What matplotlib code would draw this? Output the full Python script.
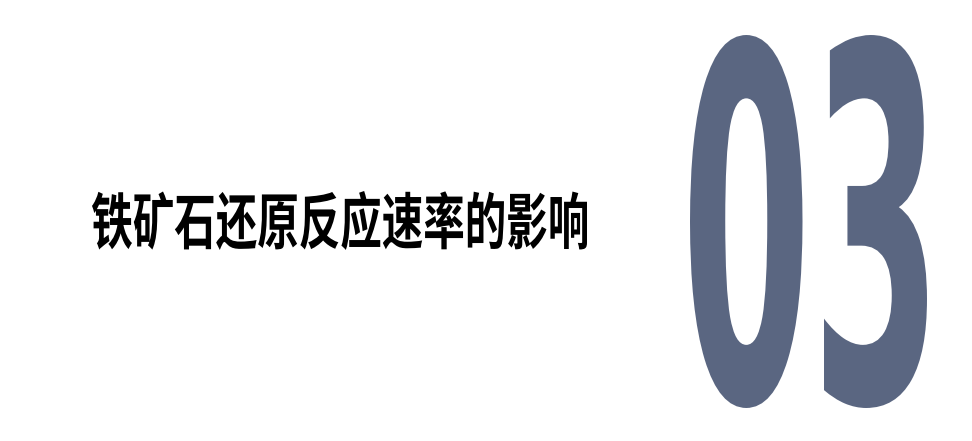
# section title slide: chinese heading plus a tall condensed "03"
import matplotlib
matplotlib.use('Agg')
import matplotlib.pyplot as plt
from matplotlib.font_manager import FontProperties
from matplotlib.textpath import TextPath
from matplotlib.transforms import Affine2D
import matplotlib.patheffects as pe

title_text = '铁矿石还原反应速率的影响'
number_text = '03'

# ink boxes (pixels, top-down): x0, x1, y_top, y_bottom
title_box = [92, 587, 191, 250]
number_box = [690, 927, 35, 408]

W, H, DPI = 972, 441, 100
number_color = '#5a6681'


class Squeeze(pe.AbstractPathEffect):
    # scale glyph outlines around the text origin, so a normal font looks condensed
    def __init__(self, sx, sy):
        super().__init__()
        self.sx = sx
        self.sy = sy

    def draw_path(self, renderer, gc, tpath, affine, rgbFace=None):
        renderer.draw_path(gc, tpath, Affine2D().scale(self.sx, self.sy) + affine, rgbFace)


def fitted_text(fig, s, box, fp, color, size_pt=100):
    # measure the ink extents in em units, then stretch to the wanted box
    ext = TextPath((0, 0), s, size=1, prop=fp).get_extents()
    em = size_pt * DPI / 72.0
    x0, x1, ytop, ybot = box
    sx = (x1 - x0) / (em * ext.width)
    sy = (ybot - ytop) / (em * ext.height)
    X = x0 - sx * em * ext.x0
    Y = (H - ybot) - sy * em * ext.y0
    fig.text(X / W, Y / H, s, fontproperties=fp, fontsize=size_pt, color=color,
             ha='left', va='baseline', path_effects=[Squeeze(sx, sy)])


fig = plt.figure(figsize=(W / DPI, H / DPI), dpi=DPI)
fig.patch.set_facecolor('white')

fp_title = FontProperties(family='Noto Sans CJK SC', weight='black')
fp_number = FontProperties(family='DejaVu Sans', weight='bold')

fitted_text(fig, title_text, title_box, fp_title, 'black', size_pt=40)
fitted_text(fig, number_text, number_box, fp_number, number_color, size_pt=100)

fig.savefig('out.png', dpi=DPI, facecolor='white')
